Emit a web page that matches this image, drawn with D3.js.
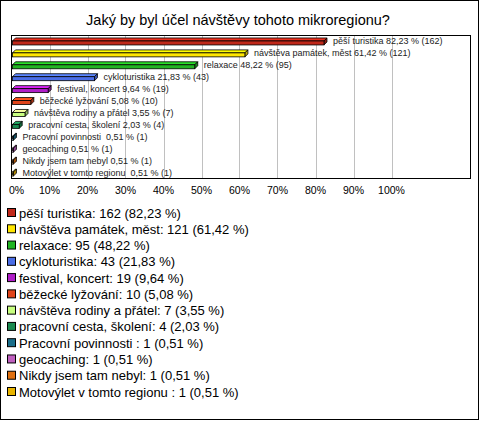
<!DOCTYPE html>
<html><head><meta charset="utf-8">
<script src="https://cdn.jsdelivr.net/npm/d3@7"></script>
<style>body{margin:0;background:#fff}svg{display:block}text{font-family:"Liberation Sans",Arial,sans-serif}</style>
</head><body><svg id="c" width="480" height="421"></svg>
<script>
const title = "Jaký by byl účel návštěvy tohoto mikroregionu?";
const categories = ["pěší turistika","návštěva památek, měst","relaxace","cykloturistika","festival, koncert","běžecké lyžování","návštěva rodiny a přátel","pracovní cesta, školení","Pracovní povinnosti ","geocaching","Nikdy jsem tam nebyl","Motovýlet v tomto regionu "];
const counts = [162,121,95,43,19,10,7,4,1,1,1,1];
const percents = [82.23,61.42,48.22,21.83,9.64,5.08,3.55,2.03,0.51,0.51,0.51,0.51];
const colors = ["#c0281a","#ffe600","#22b422","#4a6de6","#b01ec8","#e0441a","#c8ff80","#1a8a50","#1a6e8a","#c060c0","#e07010","#e8b400"];
const ticks = [0,10,20,30,40,50,60,70,80,90,100];

const fmt = v => v.toFixed(2).replace(".", ",");
const svg = d3.select("#c");
svg.append("rect").attr("x",0.5).attr("y",0.5).attr("width",478).attr("height",419).attr("fill","#fff").attr("stroke","#000");
svg.append("text").attr("x",238).attr("y",25).attr("text-anchor","middle").attr("font-size","14.5px").text(title);

const L=11.5, R=470.5, T=35.5, B=178.5;
const x = d3.scaleLinear().domain([0,100]).range([L,391.5]);
const y = d3.scaleBand().domain(d3.range(categories.length)).range([T,B]);

const g = svg.append("g");
g.selectAll("line.grid").data(ticks.slice(1)).join("line").attr("class","grid")
 .attr("x1",d=>Math.round(x(d))+0.5).attr("x2",d=>Math.round(x(d))+0.5).attr("y1",T).attr("y2",B)
 .attr("stroke","#c0c0c0");
g.append("rect").attr("x",L).attr("y",T).attr("width",R-L).attr("height",B-T).attr("fill","none").attr("stroke","#000");

g.selectAll("text.tick").data(ticks).join("text").attr("class","tick")
 .attr("x",d=>d===0? x(d)+5 : x(d)).attr("y",194).attr("text-anchor","middle").attr("font-size","10.5px").text(d=>d+"%");

const dp=3, h=4;
const bars = g.selectAll("g.bar").data(categories.map((c,i)=>({c,i,p:percents[i],n:counts[i]}))).join("g").attr("class","bar");
bars.each(function(d){
  const s=d3.select(this);
  const x0=x(0)+1, x1=x(d.p);
  const yc=y(d.i)+y.bandwidth()/2;
  const yt=yc-(h+dp)/2;
  const col=d3.color(colors[d.i]);
  s.append("path").attr("d",`M${x0},${yt+dp}L${x0+dp},${yt}L${x1+dp},${yt}L${x1},${yt+dp}Z`).attr("fill",col.brighter(0.6)).attr("stroke","#000").attr("stroke-width",0.8);
  s.append("path").attr("d",`M${x1},${yt+dp}L${x1+dp},${yt}L${x1+dp},${yt+h}L${x1},${yt+dp+h}Z`).attr("fill",col.darker(0.8)).attr("stroke","#000").attr("stroke-width",0.8);
  s.append("rect").attr("x",x0).attr("y",yt+dp).attr("width",x1-x0).attr("height",h).attr("fill",col).attr("stroke","#000").attr("stroke-width",0.8);
  s.append("text").attr("x",x1+dp+6).attr("y",yc+3).attr("font-size","9px").attr("fill","#222")
   .style("white-space","pre").text(`${d.c} ${fmt(d.p)} % (${d.n})`);
});

const leg = svg.append("g");
const ly = d3.scaleLinear().domain([0,categories.length-1]).range([213,392]);
categories.forEach((c,i)=>{
  leg.append("rect").attr("x",7.5).attr("y",ly(i)-4.5).attr("width",8).attr("height",8).attr("fill",colors[i]).attr("stroke","#000");
  leg.append("text").attr("x",19).attr("y",ly(i)+4.5).attr("font-size","13px").style("white-space","pre")
   .text(`${c}: ${counts[i]} (${fmt(percents[i])} %)`);
});
</script></body></html>
